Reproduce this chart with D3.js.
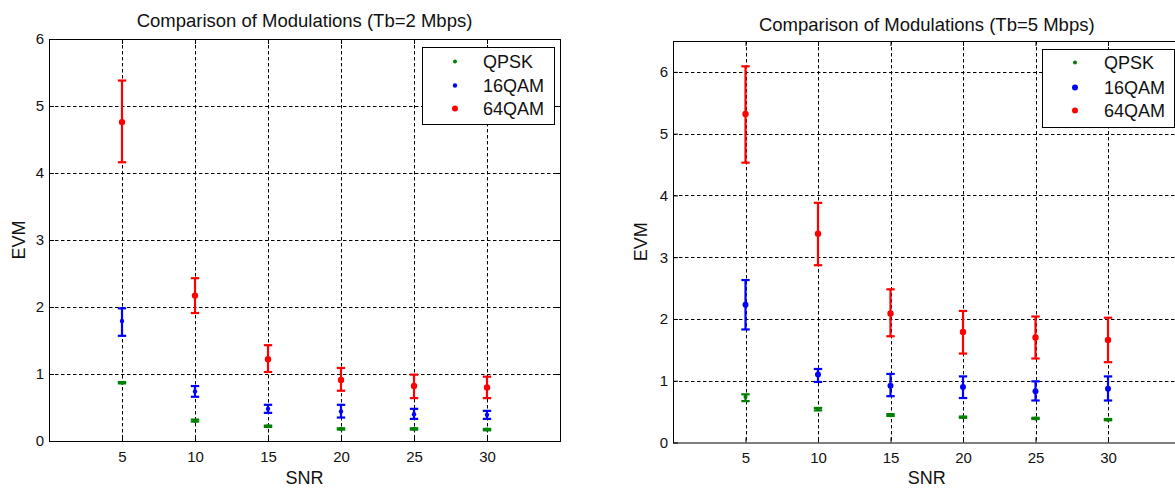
<!DOCTYPE html>
<html>
<head>
<meta charset="utf-8">
<script src="https://cdn.jsdelivr.net/npm/d3@7/dist/d3.min.js"></script>
<style>
  body { margin: 0; background: #fff; }
  svg { display: block; }
  text { font-family: "Liberation Sans", Arial, Helvetica, sans-serif; fill: #111; }
</style>
</head>
<body>
<svg id="chart" width="1175" height="489"></svg>
<script>
// ---- data ----
const snr = [5, 10, 15, 20, 25, 30];
const xTickValues = [5, 10, 15, 20, 25, 30];
const modulations = ["QPSK", "16QAM", "64QAM"];

// Tb = 2 Mbps : mean EVM with lower / upper error limits
const evm2Qpsk  = [0.87, 0.30, 0.22, 0.18, 0.18, 0.17];
const low2Qpsk  = [0.86, 0.29, 0.21, 0.17, 0.17, 0.16];
const high2Qpsk = [0.88, 0.32, 0.23, 0.19, 0.19, 0.18];

const evm2Q16  = [1.79, 0.74, 0.48, 0.44, 0.40, 0.39];
const low2Q16  = [1.57, 0.66, 0.42, 0.35, 0.33, 0.33];
const high2Q16 = [1.98, 0.82, 0.54, 0.54, 0.48, 0.45];

const evm2Q64  = [4.76, 2.17, 1.22, 0.91, 0.82, 0.80];
const low2Q64  = [4.16, 1.91, 1.03, 0.75, 0.64, 0.64];
const high2Q64 = [5.38, 2.43, 1.43, 1.09, 0.99, 0.96];

// Tb = 5 Mbps
const evm5Qpsk  = [0.74, 0.54, 0.44, 0.41, 0.39, 0.37];
const low5Qpsk  = [0.67, 0.52, 0.43, 0.40, 0.38, 0.36];
const high5Qpsk = [0.78, 0.56, 0.46, 0.42, 0.40, 0.38];

const evm5Q16  = [2.23, 1.10, 0.92, 0.90, 0.83, 0.87];
const low5Q16  = [1.83, 0.98, 0.75, 0.72, 0.68, 0.68];
const high5Q16 = [2.63, 1.19, 1.11, 1.07, 0.99, 1.07];

const evm5Q64  = [5.32, 3.38, 2.09, 1.79, 1.70, 1.66];
const low5Q64  = [4.53, 2.87, 1.72, 1.44, 1.36, 1.30];
const high5Q64 = [6.09, 3.88, 2.48, 2.13, 2.04, 2.02];

const yTicks2 = [0, 1, 2, 3, 4, 5, 6];
const yTicks5 = [0, 1, 2, 3, 4, 5, 6];

// ---- styles ----
const seriesColors = ["#008000", "#0000ff", "#ff0000"];

const svg = d3.select("#chart");

function drawPanel(cfg) {
  const g = svg.append("g");
  const x = d3.scaleLinear().domain([0, 35]).range([cfg.x0, cfg.x1]);
  const y = d3.scaleLinear().domain([0, cfg.yMax]).range([cfg.y0, cfg.y1]);

  // grid
  g.append("g").selectAll("line").data(xTickValues).join("line")
    .attr("x1", d => Math.round(x(d)) + 0.5).attr("x2", d => Math.round(x(d)) + 0.5)
    .attr("y1", cfg.y1).attr("y2", cfg.y0)
    .attr("stroke", "#000").attr("stroke-width", 1).attr("stroke-dasharray", "3.5,2.5");
  g.append("g").selectAll("line").data(cfg.yTicks.filter(d => d > 0)).join("line")
    .attr("x1", cfg.x0).attr("x2", cfg.x1)
    .attr("y1", d => Math.round(y(d)) + 0.5).attr("y2", d => Math.round(y(d)) + 0.5)
    .attr("stroke", "#000").attr("stroke-width", 1).attr("stroke-dasharray", "3.5,2.5");

  // axes (ticks inside the box)
  const fmt = d3.format("d");
  const xb = d3.axisBottom(x).tickValues(xTickValues).tickFormat(fmt).tickSize(-5).tickPadding(10);
  const xt = d3.axisTop(x).tickValues(xTickValues).tickSize(-5).tickFormat("");
  const yl = d3.axisLeft(y).tickValues(cfg.yTicks).tickFormat(fmt).tickSize(-5).tickPadding(5);
  const yr = d3.axisRight(y).tickValues(cfg.yTicks).tickSize(-5).tickFormat("");

  const styleAxis = sel => {
    sel.select(".domain").remove();
    sel.selectAll("line").attr("stroke", "#000");
    sel.selectAll("text").style("font-size", "15px").attr("fill", "#111")
      .style("font-family", "\"Liberation Sans\", Arial, sans-serif");
  };
  g.append("g").attr("transform", `translate(0,${cfg.y0})`).call(xb).call(styleAxis);
  g.append("g").attr("transform", `translate(0,${cfg.y1})`).call(xt).call(styleAxis);
  g.append("g").attr("transform", `translate(${cfg.x0},0)`).call(yl).call(styleAxis);
  g.append("g").attr("transform", `translate(${cfg.x1},0)`).call(yr).call(styleAxis);

  // box
  g.append("rect")
    .attr("x", cfg.x0 + 0.5).attr("y", cfg.y1 + 0.5)
    .attr("width", cfg.x1 - cfg.x0).attr("height", cfg.y0 - cfg.y1)
    .attr("fill", "none").attr("stroke", "#000").attr("stroke-width", 1);

  // error bars + markers
  cfg.series.forEach((s, si) => {
    const color = seriesColors[si];
    const rows = snr.map((v, i) => ({ v, m: s.mean[i], lo: s.low[i], hi: s.high[i] }));
    const sg = g.append("g");
    sg.append("g").selectAll("line").data(rows).join("line")
      .attr("x1", d => x(d.v)).attr("x2", d => x(d.v))
      .attr("y1", d => y(d.lo)).attr("y2", d => y(d.hi))
      .attr("stroke", color).attr("stroke-width", 2.2);
    ["lo", "hi"].forEach(k => {
      sg.append("g").selectAll("line").data(rows).join("line")
        .attr("x1", d => x(d.v) - 4.2).attr("x2", d => x(d.v) + 4.2)
        .attr("y1", d => y(d[k])).attr("y2", d => y(d[k]))
        .attr("stroke", color).attr("stroke-width", 2.2);
    });
    sg.append("g").selectAll("circle").data(rows).join("circle")
      .attr("cx", d => x(d.v)).attr("cy", d => y(d.m))
      .attr("r", cfg.markerR[si]).attr("fill", color);
  });

  // title & labels
  g.append("text").attr("x", (cfg.x0 + cfg.x1) / 2).attr("y", cfg.titleY)
    .attr("text-anchor", "middle").style("font-size", "18.5px").text(cfg.title);
  g.append("text").attr("x", (cfg.x0 + cfg.x1) / 2).attr("y", 484)
    .attr("text-anchor", "middle").style("font-size", "18px").text("SNR");
  g.append("text").attr("transform", `translate(${cfg.evmX},${(cfg.y0 + cfg.y1) / 2}) rotate(-90)`)
    .attr("text-anchor", "middle").style("font-size", "18px").text("EVM");

  // legend
  const L = cfg.legend;
  const lg = g.append("g");
  lg.append("rect").attr("x", L.x + 0.5).attr("y", L.y + 0.5).attr("width", L.w).attr("height", L.h)
    .attr("fill", "#fff").attr("stroke", "#000").attr("stroke-width", 1);
  modulations.forEach((name, i) => {
    lg.append("circle").attr("cx", L.mx).attr("cy", L.rows[i]).attr("r", L.r[i]).attr("fill", seriesColors[i]);
    lg.append("text").attr("x", L.tx).attr("y", L.rows[i]).attr("dy", "0.35em")
      .style("font-size", "18px").text(name);
  });
}

drawPanel({
  x0: 49, x1: 560, y0: 441, y1: 39, yMax: 6, yTicks: yTicks2,
  title: "Comparison of Modulations (Tb=2 Mbps)", titleY: 27, evmX: 25,
  markerR: [2, 2.2, 3.2],
  series: [
    { mean: evm2Qpsk, low: low2Qpsk, high: high2Qpsk },
    { mean: evm2Q16, low: low2Q16, high: high2Q16 },
    { mean: evm2Q64, low: low2Q64, high: high2Q64 }
  ],
  legend: { x: 422, y: 47, w: 132, h: 77, mx: 455, tx: 483, rows: [61.5, 85.5, 108.5], r: [2, 2.2, 3] }
});

drawPanel({
  x0: 673, x1: 1180.5, y0: 442.5, y1: 41, yMax: 6.5, yTicks: yTicks5,
  title: "Comparison of Modulations (Tb=5 Mbps)", titleY: 30.5, evmX: 647,
  markerR: [2, 3, 3.2],
  series: [
    { mean: evm5Qpsk, low: low5Qpsk, high: high5Qpsk },
    { mean: evm5Q16, low: low5Q16, high: high5Q16 },
    { mean: evm5Q64, low: low5Q64, high: high5Q64 }
  ],
  legend: { x: 1042, y: 49, w: 132, h: 78, mx: 1075, tx: 1104, rows: [62.5, 87.5, 110.5], r: [2, 3, 3] }
});
</script>
</body>
</html>
